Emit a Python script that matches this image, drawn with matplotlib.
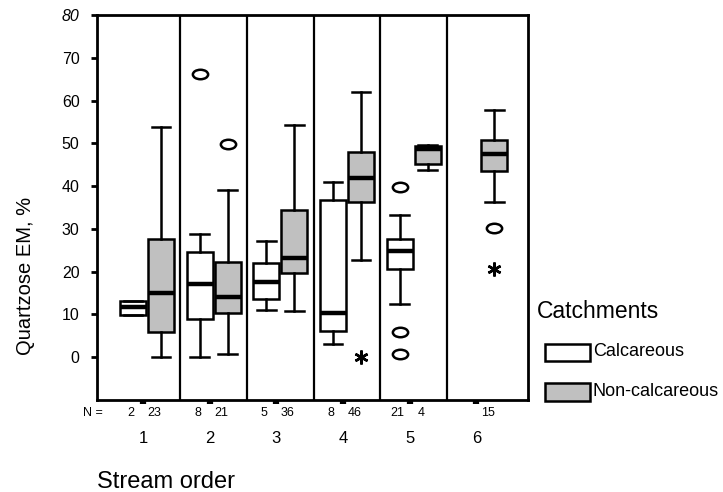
import matplotlib
matplotlib.use('Agg')
import matplotlib.pyplot as plt
from matplotlib.patches import Rectangle
from matplotlib.path import Path
from matplotlib.transforms import Affine2D

plt.rcParams['font.family'] = ['Liberation Sans', 'DejaVu Sans']

# Stream order groups
orders = [1, 2, 3, 4, 5, 6]

# Calcareous catchments (group 6 has no data)
calc_n = [2, 8, 5, 8, 21, None]
calc_q1 = [9.9, 8.9, 13.5, 6.1, 20.7]
calc_med = [11.8, 17.2, 17.6, 10.4, 24.9]
calc_q3 = [13.1, 24.5, 22.1, 36.8, 27.7]
calc_lo = [9.9, 0.0, 11.1, 3.0, 12.5]
calc_hi = [13.1, 28.8, 27.1, 40.9, 33.3]

# Non-calcareous catchments
non_n = [23, 21, 36, 46, 4, 15]
non_q1 = [5.9, 10.3, 19.7, 36.2, 45.2, 43.6]
non_med = [14.9, 14.1, 23.1, 41.9, 48.7, 47.5]
non_q3 = [27.7, 22.3, 34.3, 48.0, 49.4, 50.8]
non_lo = [0.1, 0.7, 10.8, 22.7, 43.7, 36.2]
non_hi = [53.9, 39.2, 54.2, 62.1, 49.7, 57.7]

# outliers (circles) and extremes (asterisks): (order, series, value)
outliers = [(2, 'calc', 66.2), (2, 'non', 49.8), (5, 'calc', 39.9),
            (5, 'calc', 5.8), (5, 'calc', 0.7), (6, 'non', 30.1)]
extremes = [(4, 'non', 0.1), (6, 'non', 20.7)]

off = 0.21
bw = 0.39

fig = plt.figure(figsize=(7.23, 4.92), dpi=100)
ax = fig.add_axes([0.134, 0.187, 0.596, 0.7825])

def stats(q1, med, q3, lo, hi):
    return [dict(q1=a, med=b, q3=c, whislo=d, whishi=e, fliers=[])
            for a, b, c, d, e in zip(q1, med, q3, lo, hi)]

common = dict(widths=bw, capwidths=0.28, patch_artist=True, manage_ticks=False,
              whiskerprops=dict(color='black', lw=1.8),
              capprops=dict(color='black', lw=1.8),
              medianprops=dict(color='black', lw=3.2, solid_capstyle='butt'),
              showfliers=False)

ax.bxp(stats(calc_q1, calc_med, calc_q3, calc_lo, calc_hi),
       positions=[o - off for o in orders[:5]],
       boxprops=dict(facecolor='white', edgecolor='black', lw=1.8), **common)
ax.bxp(stats(non_q1, non_med, non_q3, non_lo, non_hi),
       positions=[o + off for o in orders],
       boxprops=dict(facecolor='#c0c0c0', edgecolor='black', lw=1.8), **common)

ell = Path.unit_circle().transformed(Affine2D().scale(1, 0.62))
sgn = {'calc': -1, 'non': 1}
ax.plot([o + sgn[s] * off for o, s, v in outliers], [v for o, s, v in outliers],
        ls='none', marker=ell, ms=11, mfc='none', mec='black', mew=1.8)
ax.plot([o + sgn[s] * off for o, s, v in extremes], [v for o, s, v in extremes],
        ls='none', marker=(6, 2, 0), ms=10, mec='black', mew=1.8)

# separators between stream orders
for o in orders[:-1]:
    ax.axvline(o + 0.5, color='black', lw=1.6)

ax.set_xlim(0.25, 6.71)
ax.set_ylim(-10, 80)
ax.set_yticks(range(0, 90, 10))
ax.tick_params(axis='y', direction='out', length=4.5, width=2, pad=8, labelsize=11.5)
for lab in ax.get_yticklabels():
    if lab.get_text() == '80':
        lab.set_style('italic')
ax.set_xticks([o - 0.06 for o in orders])
ax.set_xticklabels([str(o) for o in orders], fontsize=12)
ax.tick_params(axis='x', direction='out', length=3, width=4.5, pad=19)
for sp in ax.spines.values():
    sp.set_linewidth(2)

# N counts
tr = ax.get_xaxis_transform()
ax.text(83 / 723, 1 - 413 / 492, 'N =', transform=fig.transFigure, fontsize=9, va='center', ha='left')
for o, n in zip(orders, calc_n):
    if n is not None:
        ax.text(o - off - 0.03, -0.035, str(n), transform=tr, fontsize=9, va='center', ha='center')
for o, n in zip(orders, non_n):
    ax.text(o + off - 0.1, -0.035, str(n), transform=tr, fontsize=9, va='center', ha='center')

fig.text(0.035, 0.44, 'Quartzose EM, %', rotation=90, va='center', ha='center', fontsize=14.5)
fig.text(0.134, 0.02, 'Stream order', fontsize=17, ha='left', va='center')

# legend
fig.text(0.742, 0.366, 'Catchments', fontsize=16.5, ha='left', va='center')
fig.add_artist(Rectangle((545 / 723, 1 - 361 / 492), 45 / 723, 17 / 492,
                         transform=fig.transFigure, facecolor='white', edgecolor='black', lw=1.8))
fig.add_artist(Rectangle((545 / 723, 1 - 401 / 492), 45 / 723, 18 / 492,
                         transform=fig.transFigure, facecolor='#c0c0c0', edgecolor='black', lw=1.8))
fig.text(593 / 723, 1 - 352 / 492, 'Calcareous', fontsize=13, ha='left', va='center')
fig.text(593 / 723, 1 - 392 / 492, 'Non-calcareous', fontsize=13, ha='left', va='center')

fig.savefig('out.png', dpi=100)
